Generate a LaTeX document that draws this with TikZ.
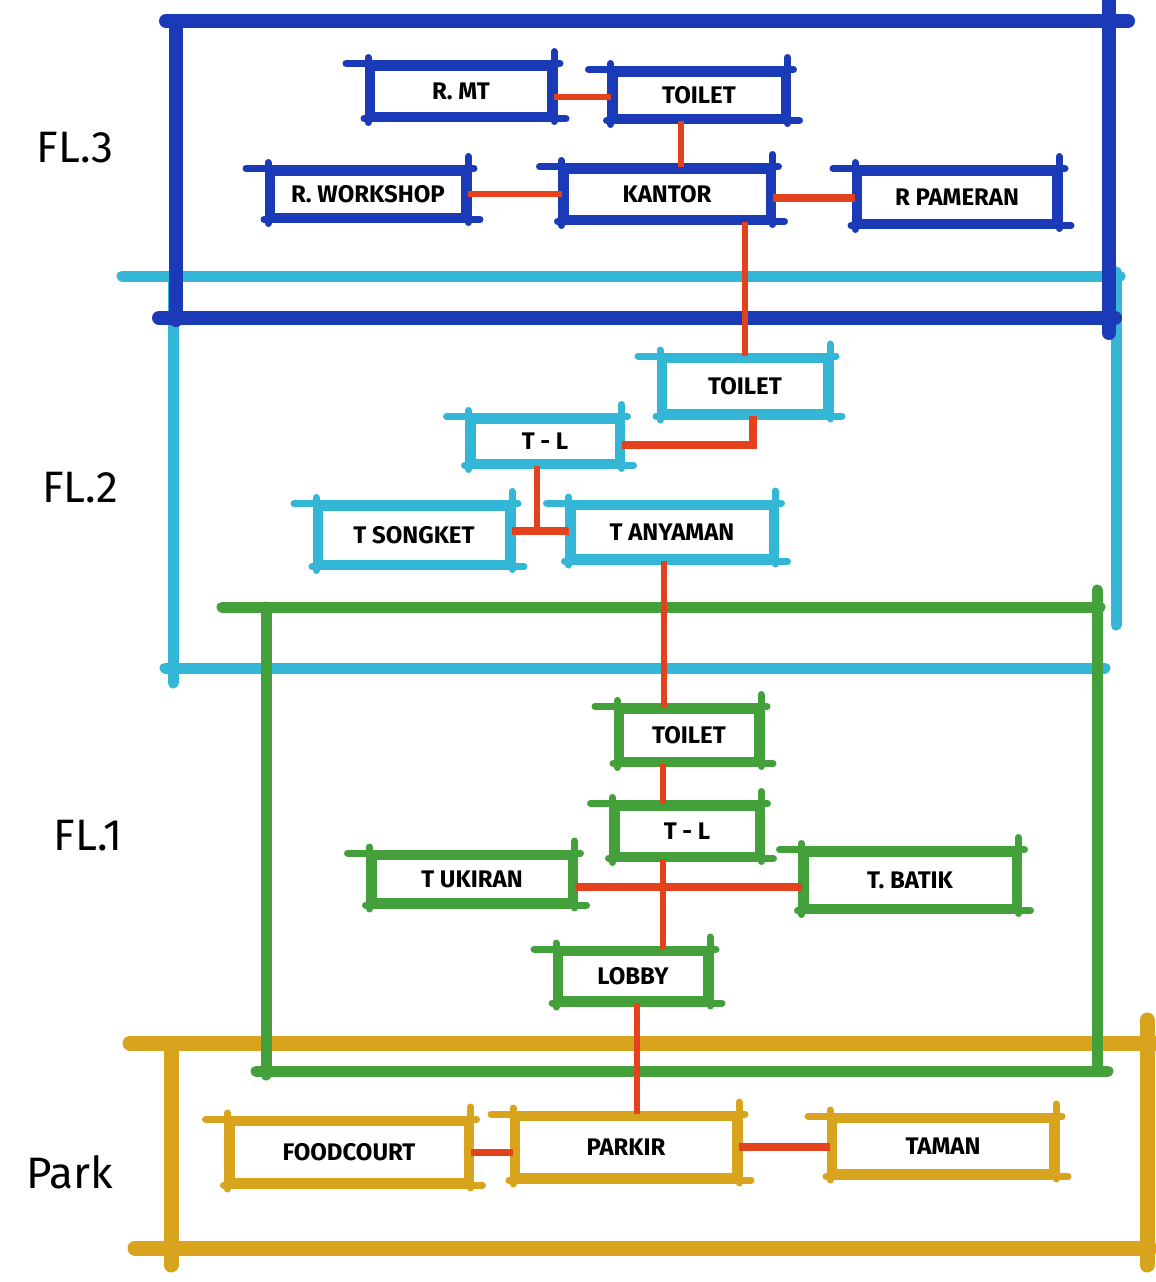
\documentclass[tikz,border=0pt]{standalone}
\usepackage{fontspec}
\setmainfont{Fira Sans}
\usepackage{tikz}
\usetikzlibrary{calc}

\definecolor{flthree}{HTML}{1B3AB8}
\definecolor{fltwo}{HTML}{34B6D6}
\definecolor{flone}{HTML}{43A03B}
\definecolor{parkclr}{HTML}{D8A41E}
\definecolor{linkclr}{HTML}{E4421C}

\begin{document}
\begin{tikzpicture}[x=1pt, y=-1pt,
  frame/.style={line width=#1, line cap=round},
  roomline/.style={draw=#1, line width=7pt, line cap=round},
  room/.style={draw=#1, line width=7pt, fill=white, inner sep=0pt,
    font=\bfseries\fontsize{24}{26}\selectfont,
    append after command={
      ([xshift=-22pt]\tikzlastnode.north west) edge[roomline=#1] ([xshift=6pt]\tikzlastnode.north east)
      ([yshift=12pt]\tikzlastnode.north east) edge[roomline=#1] ([yshift=-3pt]\tikzlastnode.south east)
      ([yshift=6pt]\tikzlastnode.north west) edge[roomline=#1] ([yshift=-4pt]\tikzlastnode.south west)
      ([xshift=-4pt]\tikzlastnode.south west) edge[roomline=#1] ([xshift=12pt]\tikzlastnode.south east)
    }},
  link/.style={draw=linkclr, line width=6pt},
  floor/.style={font=\fontsize{44}{48}\selectfont}]
  \useasboundingbox (0,0) rectangle (1156,1282);

  % floor frames
  \draw[fltwo, frame=11pt] (122,276) -- (1120,276) (173,276) -- (173,683)
    (165,668) -- (1105,668) (1116,272) -- (1116,625);
  \draw[flthree, frame=14pt] (166,21) -- (1128,21) (176,21) -- (176,320)
    (159,318) -- (1115,318) (1109,0) -- (1109,333);
  \draw[parkclr, frame=15pt] (130,1043) -- (1160,1043) (171,1045) -- (171,1265)
    (135,1248) -- (1150,1248) (1147,1020) -- (1147,1265);
  \draw[flone, frame=11pt] (222,607) -- (1100,607) (266,607) -- (266,1075)
    (256,1071) -- (1108,1071) (1097,590) -- (1097,1070);

  % floor labels
  \node[floor] (lblthree) at (75,148) {FL.3};
  \node[floor] (lbltwo) at (80,488) {FL.2};
  \node[floor] (lblone) at (88,836) {FL.1};
  \node[floor] (lblpark) at (70,1172) {Park};

  % FL.3
  \node[room=flthree, minimum width=179pt, minimum height=48pt] (rmt) at (461,91) {R. MT};
  \node[room=flthree, minimum width=170pt, minimum height=44pt] (toiletC) at (699,95) {TOILET};
  \node[room=flthree, minimum width=193pt, minimum height=44pt] (workshop) at (368,194) {R. WORKSHOP};
  \node[room=flthree, minimum width=204pt, minimum height=48pt] (kantor) at (667,194) {KANTOR};
  \node[room=flthree, minimum width=197pt, minimum height=50pt] (pameran) at (957,197) {R PAMERAN};

  % FL.2
  \node[room=fltwo, minimum width=163pt, minimum height=53pt] (toiletB) at (745,386) {TOILET};
  \node[room=fltwo, minimum width=146pt, minimum height=42pt] (tlB) at (545,441) {T - L};
  \node[room=fltwo, minimum width=189pt, minimum height=56pt] (songket) at (414,535) {T SONGKET};
  \node[room=fltwo, minimum width=200pt, minimum height=51pt] (anyaman) at (672,532) {T ANYAMAN};

  % FL.1
  \node[room=flone, minimum width=137pt, minimum height=50pt] (toiletA) at (689,735) {TOILET};
  \node[room=flone, minimum width=142pt, minimum height=48pt] (tlA) at (687,831) {T - L};
  \node[room=flone, minimum width=198pt, minimum height=45pt] (ukiran) at (472,879) {T UKIRAN};
  \node[room=flone, minimum width=210pt, minimum height=54pt] (batik) at (910,880) {T. BATIK};
  \node[room=flone, minimum width=147pt, minimum height=47pt] (lobby) at (633,976) {LOBBY};

  % Park
  \node[room=parkclr, minimum width=236pt, minimum height=59pt] (foodcourt) at (349,1152) {FOODCOURT};
  \node[room=parkclr, minimum width=219pt, minimum height=59pt] (parkir) at (626,1147) {PARKIR};
  \node[room=parkclr, minimum width=219pt, minimum height=53pt] (taman) at (943,1146) {TAMAN};

  % links
  \draw[link] ([yshift=-6pt]rmt.east) -- ([yshift=-6pt]rmt.east -| toiletC.west);
  \draw[link] ([xshift=-18pt]toiletC.south) -- ([xshift=-18pt]toiletC.south |- kantor.north);
  \draw[link] (workshop.east) -- (workshop.east -| kantor.west);
  \draw[link, line width=8pt] ([yshift=-4pt]kantor.east) -- ([yshift=-4pt]kantor.east -| pameran.west);
  \draw[link] (toiletB.north) -- (toiletB.north |- kantor.south);
  \draw[link, line width=8pt] ([yshift=-4pt]tlB.east) -| ([xshift=8pt]toiletB.south);
  \draw[link] ([xshift=-8pt]tlB.south) -- ([xshift=-8pt]tlB.south |- songket.east);
  \draw[link, line width=8pt] ([yshift=4pt]songket.east) -- ([yshift=4pt]songket.east -| anyaman.west);
  \draw[link] ([xshift=-8pt]anyaman.south) -- ([xshift=-8pt]anyaman.south |- toiletA.north);
  \draw[link] ([xshift=-26pt]toiletA.south) -- ([xshift=-26pt]toiletA.south |- tlA.north);
  \draw[link] ([xshift=-24pt]tlA.south) -- ([xshift=-24pt]tlA.south |- lobby.north);
  \draw[link, line width=8pt] ([yshift=-8pt]ukiran.east) -- ([yshift=-8pt]ukiran.east -| batik.west);
  \draw[link] ([xshift=4pt]lobby.south) -- ([xshift=4pt]lobby.south |- parkir.north);
  \draw[link, line width=7pt] (foodcourt.east) -- (foodcourt.east -| parkir.west);
  \draw[link, line width=8pt] (parkir.east) -- (parkir.east -| taman.west);
\end{tikzpicture}
\end{document}
